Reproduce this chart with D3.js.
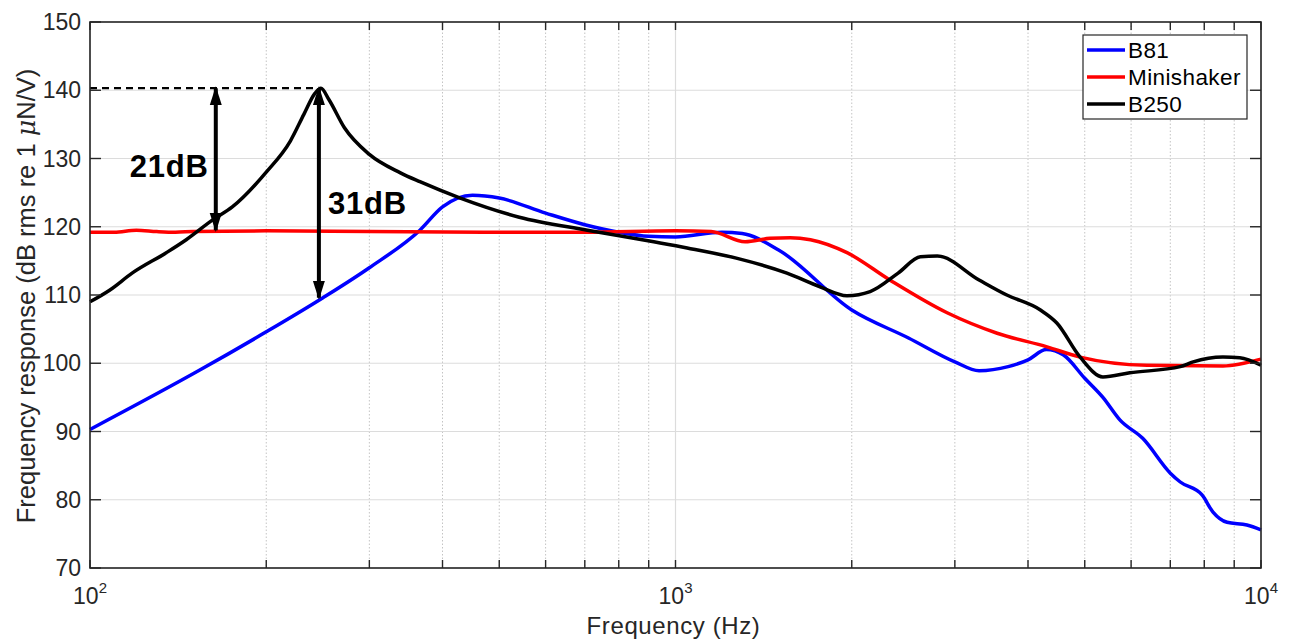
<!DOCTYPE html>
<html>
<head>
<meta charset="utf-8">
<script src="https://cdn.jsdelivr.net/npm/d3@7"></script>
<style>
  body { margin: 0; background: #fff; }
  svg text { font-family: "Liberation Sans", Arial, sans-serif; fill: #262626; }
</style>
</head>
<body>
<div id="chart"></div>
<script>
// Frequency response chart

// B81
var b81Freq = [100, 154, 200, 250, 300, 366, 400, 450, 500, 600, 700, 800, 900, 1000, 1200, 1300, 1500, 2000, 2500, 3000, 3300, 3700, 4000, 4300, 4600, 5000, 5370, 5740, 6280, 7000, 7280, 7930, 8280, 8750, 9460, 10000];
var b81Db = [90.3, 99.0, 104.6, 109.6, 114.0, 119.5, 122.9, 124.6, 124.2, 122.0, 120.3, 119.2, 118.6, 118.5, 119.2, 119.0, 116.6, 107.8, 103.7, 100.2, 98.9, 99.5, 100.5, 102.0, 101.2, 97.8, 95.0, 91.7, 89.0, 83.9, 82.6, 80.7, 78.2, 76.7, 76.3, 75.6];

// Minishaker
var miniFreq = [100, 110, 120, 130, 140, 150, 200, 300, 500, 700, 1000, 1150, 1315, 1450, 1570, 1700, 1963, 2323, 2910, 3543, 4310, 4910, 6390, 8610, 10000];
var miniDb = [119.2, 119.2, 119.5, 119.3, 119.2, 119.3, 119.4, 119.3, 119.2, 119.2, 119.4, 119.3, 117.8, 118.3, 118.4, 118.1, 116.2, 112.2, 107.4, 104.4, 102.4, 100.9, 99.7, 99.6, 100.6];

// B250
var b250Freq = [100, 108, 118, 135, 146, 162, 175, 200, 220, 232, 242, 248, 256, 272, 300, 339, 366, 429, 541, 707, 918, 1047, 1270, 1550, 1765, 1963, 2150, 2400, 2620, 2800, 3300, 3680, 4200, 4480, 4910, 5370, 5970, 7280, 7660, 8610, 9200, 10000];
var b250Db = [109.0, 110.7, 113.2, 116.2, 118.1, 121.0, 122.9, 128.0, 132.6, 136.5, 139.5, 140.3, 138.6, 134.5, 130.6, 127.9, 126.6, 124.2, 121.4, 119.5, 117.8, 116.9, 115.4, 113.2, 111.2, 109.9, 110.5, 113.2, 115.6, 115.7, 112.2, 110.0, 107.8, 105.9, 100.9, 98.0, 98.6, 99.5, 100.2, 100.9, 100.8, 99.7];

var seriesNames = ['B81', 'Minishaker', 'B250'];
var seriesColors = ['#0000ff', '#ff0000', '#000000'];
var yTicks = [70, 80, 90, 100, 110, 120, 130, 140, 150];
var xMajor = [100, 1000, 10000];
var xExp = ['2', '3', '4'];

// annotation values (Hz, dB)
var peakDb = 140.3;
var peakFreq = 248;
var arrow21 = [164, 140.3, 119.5];
var arrow31 = [246, 140.3, 109.6];

var svgWidth = 1290;
var svgHeight = 641;

var margin = {left: 90, top: 22, right: 29, bottom: 73};
var width = svgWidth - margin.left - margin.right;
var height = svgHeight - margin.top - margin.bottom;

var svg = d3.select('#chart').append('svg')
    .attr('width', svgWidth)
    .attr('height', svgHeight);

var defs = svg.append('defs');
defs.append('marker')
    .attr('id', 'head')
    .attr('viewBox', '0 0 10 10')
    .attr('refX', 9)
    .attr('refY', 5)
    .attr('markerUnits', 'userSpaceOnUse')
    .attr('markerWidth', 19)
    .attr('markerHeight', 19)
    .attr('orient', 'auto-start-reverse')
    .append('path')
        .attr('d', 'M0,1.8 L10,5 L0,8.2 Z')
        .attr('fill', '#000');

var g = svg.append('g')
    .attr('transform', 'translate(' + margin.left + ',' + margin.top + ')');

var xScale = d3.scaleLog()
    .domain([100, 10000])
    .range([0, width]);

var yScale = d3.scaleLinear()
    .domain([70, 150])
    .range([height, 0]);

// minor ticks of the log axis
var xMinor = [];
[100, 1000].forEach(function(base) {
    for (var k = 2; k <= 9; k++) xMinor.push(base * k);
});

// Grid
g.selectAll('.minor-grid')
    .data(xMinor)
    .enter().append('line')
        .attr('x1', (d) => xScale(d))
        .attr('x2', (d) => xScale(d))
        .attr('y1', 0)
        .attr('y2', height)
        .attr('stroke', '#c4c4c4')
        .attr('stroke-width', 1)
        .attr('stroke-dasharray', '1.5,2');

g.selectAll('.major-xgrid')
    .data(xMajor)
    .enter().append('line')
        .attr('x1', (d) => xScale(d))
        .attr('x2', (d) => xScale(d))
        .attr('y1', 0)
        .attr('y2', height)
        .attr('stroke', '#dcdcdc')
        .attr('stroke-width', 1.2);

g.selectAll('.ygrid')
    .data(yTicks)
    .enter().append('line')
        .attr('x1', 0)
        .attr('x2', width)
        .attr('y1', (d) => yScale(d))
        .attr('y2', (d) => yScale(d))
        .attr('stroke', '#dcdcdc')
        .attr('stroke-width', 1.2);

// Curves
var freqs = [b81Freq, miniFreq, b250Freq];
var dbs = [b81Db, miniDb, b250Db];

var line = d3.line()
    .x((d) => xScale(d[0]))
    .y((d) => yScale(d[1]))
    .curve(d3.curveMonotoneX);

seriesNames.forEach(function(name, i) {
    g.append('path')
        .datum(d3.zip(freqs[i], dbs[i]))
        .attr('d', line)
        .attr('fill', 'none')
        .attr('stroke', seriesColors[i])
        .attr('stroke-width', 3.5)
        .attr('stroke-linejoin', 'round');
});

// Annotations
g.append('line')
    .attr('x1', xScale(100))
    .attr('x2', xScale(peakFreq) - 4)
    .attr('y1', yScale(peakDb))
    .attr('y2', yScale(peakDb))
    .attr('stroke', '#000')
    .attr('stroke-width', 2.2)
    .attr('stroke-dasharray', '7,5');

[arrow21, arrow31].forEach(function(a) {
    g.append('line')
        .attr('x1', xScale(a[0]))
        .attr('x2', xScale(a[0]))
        .attr('y1', yScale(a[1]))
        .attr('y2', yScale(a[2]))
        .attr('stroke', '#000')
        .attr('stroke-width', 4)
        .attr('marker-start', 'url(#head)')
        .attr('marker-end', 'url(#head)');
});

g.append('text')
    .attr('x', xScale(arrow21[0]) - 7)
    .attr('y', yScale(127.3))
    .attr('text-anchor', 'end')
    .style('font-size', '31px')
    .style('font-weight', 'bold')
    .style('letter-spacing', '0.8px')
    .style('fill', '#000')
    .text('21dB');

g.append('text')
    .attr('x', xScale(arrow31[0]) + 9)
    .attr('y', yScale(121.8))
    .style('font-size', '31px')
    .style('font-weight', 'bold')
    .style('letter-spacing', '0.8px')
    .style('fill', '#000')
    .text('31dB');

// Axes box and ticks
var axisColor = '#262626';
var tickLen = 8;

g.append('rect')
    .attr('width', width)
    .attr('height', height)
    .attr('fill', 'none')
    .attr('stroke', axisColor)
    .attr('stroke-width', 1.6);

var allX = xMajor.concat(xMinor);
g.selectAll('.xtick-b')
    .data(allX)
    .enter().append('line')
        .attr('x1', (d) => xScale(d))
        .attr('x2', (d) => xScale(d))
        .attr('y1', height)
        .attr('y2', height - tickLen)
        .attr('stroke', axisColor)
        .attr('stroke-width', 1.4);

g.selectAll('.xtick-t')
    .data(allX)
    .enter().append('line')
        .attr('x1', (d) => xScale(d))
        .attr('x2', (d) => xScale(d))
        .attr('y1', 0)
        .attr('y2', tickLen)
        .attr('stroke', axisColor)
        .attr('stroke-width', 1.4);

g.selectAll('.ytick-l')
    .data(yTicks)
    .enter().append('line')
        .attr('x1', 0)
        .attr('x2', 11)
        .attr('y1', (d) => yScale(d))
        .attr('y2', (d) => yScale(d))
        .attr('stroke', axisColor)
        .attr('stroke-width', 1.4);

g.selectAll('.ytick-r')
    .data(yTicks)
    .enter().append('line')
        .attr('x1', width)
        .attr('x2', width - 11)
        .attr('y1', (d) => yScale(d))
        .attr('y2', (d) => yScale(d))
        .attr('stroke', axisColor)
        .attr('stroke-width', 1.4);

// Tick labels
g.selectAll('.ylabel')
    .data(yTicks)
    .enter().append('text')
        .attr('x', -9)
        .attr('y', (d) => yScale(d) + 8)
        .attr('text-anchor', 'end')
        .style('font-size', '23px')
        .text((d) => d);

var xl = g.selectAll('.xlabel')
    .data(xMajor)
    .enter().append('text')
        .attr('x', (d) => xScale(d))
        .attr('y', height + 36)
        .attr('text-anchor', 'middle')
        .style('font-size', '23px');
xl.append('tspan').text('10');
xl.append('tspan')
    .attr('dy', -11)
    .style('font-size', '15px')
    .text((d, i) => xExp[i]);

// Axis titles
svg.append('text')
    .attr('x', margin.left + width / 2 - 2)
    .attr('y', 634)
    .attr('text-anchor', 'middle')
    .style('font-size', '24px')
    .style('letter-spacing', '0.6px')
    .text('Frequency (Hz)');

var yTitle = svg.append('text')
    .attr('transform', 'translate(35,296) rotate(-90)')
    .attr('text-anchor', 'middle')
    .style('font-size', '25.5px');
yTitle.append('tspan').text('Frequency response (dB rms re 1 ');
yTitle.append('tspan').style('font-style', 'italic').style('font-family', 'DejaVu Serif, serif').text('\u03bc');
yTitle.append('tspan').text('N/V)');

// Legend
var legend = svg.append('g')
    .attr('transform', 'translate(1083,35)');

legend.append('rect')
    .attr('width', 164)
    .attr('height', 84)
    .attr('fill', '#fff')
    .attr('stroke', axisColor)
    .attr('stroke-width', 1.2);

seriesNames.forEach(function(name, i) {
    var row = legend.append('g')
        .attr('transform', 'translate(0,' + (15 + i * 27) + ')');
    row.append('line')
        .attr('x1', 4)
        .attr('x2', 42)
        .attr('stroke', seriesColors[i])
        .attr('stroke-width', 3.5);
    row.append('text')
        .attr('x', 45)
        .attr('y', 8)
        .style('font-size', '22.5px')
        .style('letter-spacing', '0.4px')
        .style('fill', '#000')
        .text(name);
});
</script>
</body>
</html>
